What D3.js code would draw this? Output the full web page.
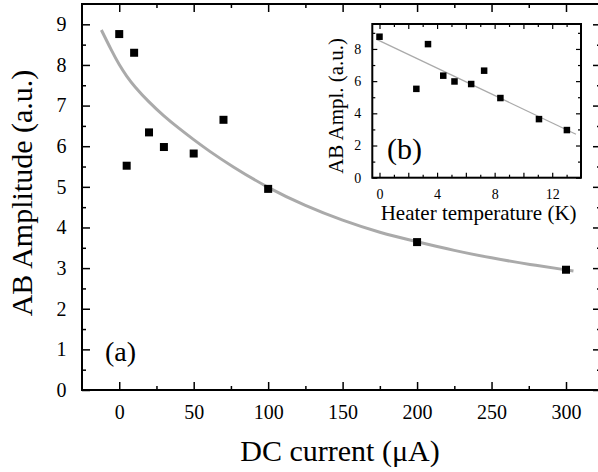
<!DOCTYPE html>
<html>
<head>
<meta charset="utf-8">
<script src="https://cdn.jsdelivr.net/npm/d3@7"></script>
<style>
  html, body { margin: 0; padding: 0; background: #fff; }
  svg { display: block; }
  text { font-family: "Liberation Serif", "Times New Roman", serif; fill: #000; }
</style>
</head>
<body>
<script>
// ---- Data ----
const currents   = [0, 5, 10, 20, 30, 50, 70, 100, 200, 300];            // µA
const amplitudes = [8.76, 5.52, 8.30, 6.34, 5.98, 5.82, 6.65, 4.95, 3.64, 2.96];
const heaterTemps = [0, 2.56, 3.37, 4.43, 5.21, 6.37, 7.27, 8.40, 11.08, 13.02]; // K
// gray fit curve, main panel
const fitCurrent = [-12, -5, 0, 5, 10, 20, 30, 40, 50, 60, 75, 100, 125, 150, 175, 200, 225, 250, 275, 305];
const fitAmp     = [8.86, 8.34, 8.00, 7.72, 7.48, 7.08, 6.74, 6.44, 6.16, 5.89, 5.52, 4.97, 4.53, 4.17, 3.87, 3.65, 3.43, 3.25, 3.09, 2.93];
// gray linear fit, inset
const linTemp = [-0.2, 13.65];
const linAmp  = [8.6, 2.7];
// tick labels
const mainXTicks = [0, 50, 100, 150, 200, 250, 300];
const mainYTicks = [0, 1, 2, 3, 4, 5, 6, 7, 8, 9];
const insetXTicks = [0, 4, 8, 12];
const insetYTicks = [0, 2, 4, 6, 8];

const W = 598, H = 472;
const FONT = '"Liberation Serif", "Times New Roman", serif';
const svg = d3.select("body").append("svg").attr("width", W).attr("height", H);

// ---- Main panel ----
const mL = 82, mR = 601, mT = 4, mB = 390;
const x = d3.scaleLinear().domain([-25, 323.5]).range([mL, mR]);
const y = d3.scaleLinear().domain([0, 9.5]).range([mB, mT]);

const mainMinorX = d3.range(25, 323, 50);
const mainMinorY = d3.range(0.5, 9.5, 1);

function styleAxis(g, fs) {
  g.attr("font-family", FONT);
  g.select(".domain").remove();
  g.selectAll(".tick line").attr("stroke", "#000").attr("stroke-width", 1.5);
  g.selectAll(".tick text").attr("font-family", FONT)
    .attr("font-size", fs).attr("fill", "#000");
}

// bottom
svg.append("g").attr("transform", `translate(0,${mB})`)
  .call(d3.axisBottom(x).tickValues(mainXTicks).tickSize(-8).tickSizeOuter(0).tickPadding(15))
  .call(g => styleAxis(g, 20));
svg.append("g").attr("transform", `translate(0,${mB})`)
  .call(d3.axisBottom(x).tickValues(mainMinorX).tickSize(-4).tickSizeOuter(0).tickFormat(""))
  .call(g => styleAxis(g, 20));
// top
svg.append("g").attr("transform", `translate(0,${mT})`)
  .call(d3.axisTop(x).tickValues(mainXTicks).tickSize(-8).tickSizeOuter(0).tickFormat(""))
  .call(g => styleAxis(g, 20));
svg.append("g").attr("transform", `translate(0,${mT})`)
  .call(d3.axisTop(x).tickValues(mainMinorX).tickSize(-4).tickSizeOuter(0).tickFormat(""))
  .call(g => styleAxis(g, 20));
// left
svg.append("g").attr("transform", `translate(${mL},0)`)
  .call(d3.axisLeft(y).tickValues(mainYTicks).tickSize(-8).tickSizeOuter(0).tickPadding(15.5))
  .call(g => styleAxis(g, 20));
svg.append("g").attr("transform", `translate(${mL},0)`)
  .call(d3.axisLeft(y).tickValues(mainMinorY).tickSize(-4).tickSizeOuter(0).tickFormat(""))
  .call(g => styleAxis(g, 20));
// right
svg.append("g").attr("transform", `translate(${mR},0)`)
  .call(d3.axisRight(y).tickValues(mainYTicks).tickSize(-8).tickSizeOuter(0).tickFormat(""))
  .call(g => styleAxis(g, 20));
svg.append("g").attr("transform", `translate(${mR},0)`)
  .call(d3.axisRight(y).tickValues(mainMinorY).tickSize(-4).tickSizeOuter(0).tickFormat(""))
  .call(g => styleAxis(g, 20));

// frame
svg.append("rect").attr("x", mL).attr("y", mT).attr("width", mR - mL).attr("height", mB - mT)
  .attr("fill", "none").attr("stroke", "#000").attr("stroke-width", 2);

// fit curve
const fitData = fitCurrent.map((c, i) => [c, fitAmp[i]]);
svg.append("path").datum(fitData)
  .attr("d", d3.line().x(d => x(d[0])).y(d => y(d[1])).curve(d3.curveBasis))
  .attr("fill", "none").attr("stroke", "#aaaaaa").attr("stroke-width", 3);

// markers
const mainPts = currents.map((c, i) => [c, amplitudes[i]]);
const ms = 8;
svg.append("g").selectAll("rect").data(mainPts).join("rect")
  .attr("x", d => x(d[0]) - ms / 2).attr("y", d => y(d[1]) - ms / 2)
  .attr("width", ms).attr("height", ms).attr("fill", "#000");

// labels
svg.append("text").attr("x", 340).attr("y", 461).attr("text-anchor", "middle")
  .attr("font-size", 30).text("DC current (μA)");
svg.append("text").attr("transform", `translate(32,${(mT + mB) / 2 - 4}) rotate(-90)`)
  .attr("text-anchor", "middle").attr("font-size", 30).text("AB Amplitude (a.u.)");
svg.append("text").attr("x", 105).attr("y", 361).attr("font-size", 28).text("(a)");

// ---- Inset ----
const iL = 372.3, iR = 581, iT = 24, iB = 177.7;
const xi = d3.scaleLinear().domain([-0.5, 14]).range([iL, iR]);
const yi = d3.scaleLinear().domain([0, 9.55]).range([iB, iT]);

svg.append("rect").attr("x", iL).attr("y", iT).attr("width", iR - iL).attr("height", iB - iT)
  .attr("fill", "#fff");

const inMajX = d3.range(0, 14, 2), inMinX = d3.range(1, 14, 2);
const inMajY = d3.range(0, 10, 2), inMinY = d3.range(1, 10, 2);

svg.append("g").attr("transform", `translate(0,${iB})`)
  .call(d3.axisBottom(xi).tickValues(insetXTicks).tickSize(0).tickSizeOuter(0).tickPadding(11))
  .call(g => styleAxis(g, 14));
[[d3.axisBottom, iB, inMajX, -5], [d3.axisBottom, iB, inMinX, -3],
 [d3.axisTop, iT, inMajX, -5], [d3.axisTop, iT, inMinX, -3]].forEach(([ax, pos, vals, sz]) => {
  svg.append("g").attr("transform", `translate(0,${pos})`)
    .call(ax(xi).tickValues(vals).tickSize(sz).tickSizeOuter(0).tickFormat(""))
    .call(g => { styleAxis(g, 14); g.selectAll(".tick line").attr("stroke-width", 1.2); });
});
svg.append("g").attr("transform", `translate(${iL},0)`)
  .call(d3.axisLeft(yi).tickValues(insetYTicks).tickSize(0).tickSizeOuter(0).tickPadding(11))
  .call(g => styleAxis(g, 14));
[[d3.axisLeft, iL, inMajY, -5], [d3.axisLeft, iL, inMinY, -3],
 [d3.axisRight, iR, inMajY, -5], [d3.axisRight, iR, inMinY, -3]].forEach(([ax, pos, vals, sz]) => {
  svg.append("g").attr("transform", `translate(${pos},0)`)
    .call(ax(yi).tickValues(vals).tickSize(sz).tickSizeOuter(0).tickFormat(""))
    .call(g => { styleAxis(g, 14); g.selectAll(".tick line").attr("stroke-width", 1.2); });
});

svg.append("rect").attr("x", iL).attr("y", iT).attr("width", iR - iL).attr("height", iB - iT)
  .attr("fill", "none").attr("stroke", "#000").attr("stroke-width", 2);

const linData = linTemp.map((t, i) => [t, linAmp[i]]);
svg.append("path").datum(linData)
  .attr("d", d3.line().x(d => xi(d[0])).y(d => yi(d[1])))
  .attr("fill", "none").attr("stroke", "#aaaaaa").attr("stroke-width", 1.3);

const inPts = heaterTemps.map((t, i) => [t, amplitudes[i]]);
const is = 6.5;
svg.append("g").selectAll("rect").data(inPts).join("rect")
  .attr("x", d => xi(d[0]) - is / 2).attr("y", d => yi(d[1]) - is / 2)
  .attr("width", is).attr("height", is).attr("fill", "#000");

svg.append("text").attr("x", (iL + iR) / 2 + 2).attr("y", 220).attr("text-anchor", "middle")
  .attr("font-size", 21).text("Heater temperature (K)");
svg.append("text").attr("transform", `translate(343,${(iT + iB) / 2 + 5}) rotate(-90)`)
  .attr("text-anchor", "middle").attr("font-size", 21).text("AB Ampl. (a.u.)");
svg.append("text").attr("x", 387).attr("y", 159).attr("font-size", 30).text("(b)");
</script>
</body>
</html>
